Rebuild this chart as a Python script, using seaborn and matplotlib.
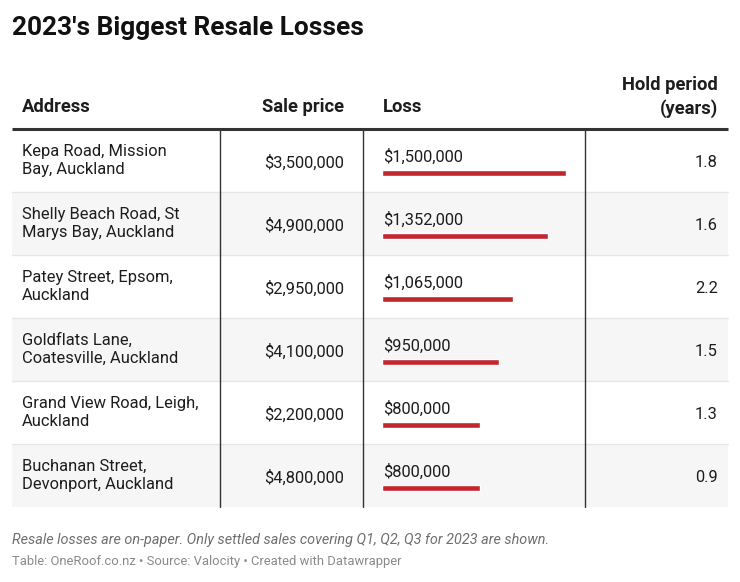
import matplotlib
matplotlib.use("Agg")
import matplotlib.pyplot as plt
import seaborn as sns
import pandas as pd

sns.set_theme(style="white")
plt.rcParams['font.family'] = ['Roboto', 'DejaVu Sans']

# ---- data ----
addresses = [
    "Kepa Road, Mission\nBay, Auckland",
    "Shelly Beach Road, St\nMarys Bay, Auckland",
    "Patey Street, Epsom,\nAuckland",
    "Goldflats Lane,\nCoatesville, Auckland",
    "Grand View Road, Leigh,\nAuckland",
    "Buchanan Street,\nDevonport, Auckland",
]
sale_prices = [3500000, 4900000, 2950000, 4100000, 2200000, 4800000]
losses = [1500000, 1352000, 1065000, 950000, 800000, 800000]
hold_years = [1.8, 1.6, 2.2, 1.5, 1.3, 0.9]
headers = ["Address", "Sale price", "Loss", "Hold period\n(years)"]

title = "2023's Biggest Resale Losses"
note = "Resale losses are on-paper. Only settled sales covering Q1, Q2, Q3 for 2023 are shown."
source = "Table: OneRoof.co.nz \u2022 Source: Valocity \u2022 Created with Datawrapper"

W, H = 740, 582
fig = plt.figure(figsize=(W / 100, H / 100), dpi=100)
fig.patch.set_facecolor("white")
ax = fig.add_axes([0, 0, 1, 1])
ax.set_xlim(0, W)
ax.set_ylim(H, 0)
ax.axis("off")

text_c = "#1d1d1d"
bar_c = "#c1272d"

# geometry
left, right = 12, 728
top = 129
row_h = 63
n = len(addresses)
bottom = top + n * row_h
col_sep = [220, 363, 585]

# title
ax.text(12, 28, title, fontsize=18.9, fontweight="bold", color="#111111",
        va="center", ha="left")

# headers
hdr_kw = dict(fontsize=13.2, fontweight="bold", color=text_c, va="center")
ax.text(22, 107, headers[0], ha="left", **hdr_kw)
ax.text(344, 107, headers[1], ha="right", **hdr_kw)
ax.text(383, 107, headers[2], ha="left", **hdr_kw)
ax.text(718, 97, headers[3], ha="right", linespacing=1.3, **hdr_kw)

# row backgrounds
for i in range(n):
    y0 = top + i * row_h
    if i % 2 == 1:
        ax.add_patch(plt.Rectangle((left, y0), right - left, row_h,
                                   facecolor="#f6f6f6", edgecolor="none", zorder=0))
    if i > 0:
        ax.plot([left, right], [y0, y0], color="#e6e6e6", lw=1, zorder=1)

# header rule
ax.plot([left, right], [top, top], color="#333333", lw=2.2, zorder=3,
        solid_capstyle="butt")
# column separators
for x in col_sep:
    ax.plot([x, x], [top, bottom], color="#333333", lw=1, zorder=2)

body_kw = dict(fontsize=11.9, color=text_c, va="center")
for i in range(n):
    yc = top + i * row_h + row_h / 2
    ax.text(22, yc, addresses[i], ha="left", linespacing=1.28, **body_kw)
    ax.text(344, yc + 2, f"${sale_prices[i]:,}", ha="right", **body_kw)
    ax.text(383, yc - 3.5, f"${losses[i]:,}", ha="left", **body_kw)
    ax.text(718, yc + 2, f"{hold_years[i]:.1f}", ha="right", **body_kw)

# footer
ax.text(12, 540, note, fontsize=10.4, style="italic", color="#6e6e6e",
        va="center", ha="left")
ax.text(12, 562, source, fontsize=9.4, color="#8a8a8a", va="center", ha="left")

# bars via seaborn on an inset axes aligned to the Loss column
bx0, bw = 382, 184
off = 12.5
by0 = top + off
bh = n * row_h
bax = fig.add_axes([bx0 / W, 1 - (by0 + bh) / H, bw / W, bh / H])
df = pd.DataFrame({"row": [str(i) for i in range(n)], "loss": losses})
sns.barplot(data=df, x="loss", y="row", orient="h", color=bar_c,
            saturation=1, width=5.5 / row_h, ax=bax)
bax.set_xlim(0, max(losses))
bax.set_ylim(n - 0.5, -0.5)
bax.axis("off")
bax.patch.set_alpha(0)

fig.savefig("out.png", dpi=100, facecolor="white")
